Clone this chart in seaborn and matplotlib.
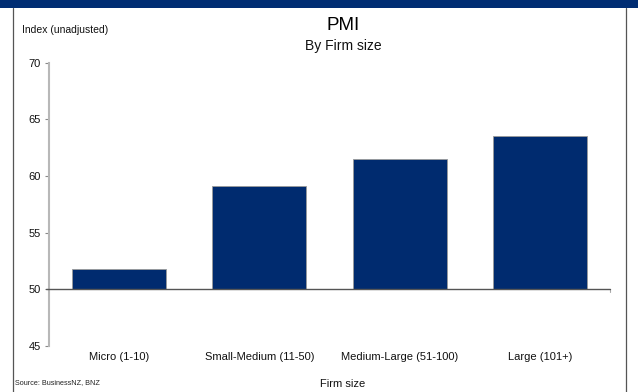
import matplotlib
matplotlib.use("Agg")
import matplotlib.pyplot as plt
import seaborn as sns
import pandas as pd
from matplotlib.lines import Line2D
from matplotlib.patches import Rectangle

categories = ["Micro (1-10)", "Small-Medium (11-50)", "Medium-Large (51-100)", "Large (101+)"]
values = [51.8, 59.1, 61.5, 63.5]
yticks = [45, 50, 55, 60, 65, 70]
base = 50

sns.set_theme(style="white")
plt.rcParams["font.family"] = ["Liberation Sans", "DejaVu Sans"]

W, H = 638, 392
fig = plt.figure(figsize=(W / 100, H / 100), dpi=100)
fig.patch.set_facecolor("white")

def fx(px):
    return px / W

def fy(py):
    return 1 - py / H

ax = fig.add_axes([fx(49), fy(346), fx(610) - fx(49), fy(62.7) - fy(346)])

df = pd.DataFrame({"cat": categories, "val": values})
df["height"] = df["val"] - base

sns.barplot(data=df, x="cat", y="height", bottom=base, color="#002B6F",
            saturation=1, width=0.67, edgecolor="#9a9a9a", linewidth=0.6, ax=ax)

ax.set_ylim(45, 70)
ax.set_xlim(-0.5, 3.5)
ax.set_yticks(yticks)
ax.set_yticklabels([str(t) for t in yticks], fontsize=8, color="#111111")
ax.set_xlabel("")
ax.set_ylabel("")
ax.tick_params(axis="x", length=0, pad=4, labelsize=8, labelcolor="#111111")
ax.tick_params(axis="y", left=True, length=3, width=0.8, color="#888888", pad=3)

for s in ["top", "right", "bottom"]:
    ax.spines[s].set_visible(False)
ax.spines["left"].set_color("#b8b8b8")
ax.spines["left"].set_linewidth(1.5)

# horizontal axis crossing at 50
ax.axhline(base, xmin=-0.006, xmax=1.0, color="#555555", linewidth=1.0, clip_on=False, zorder=3)
ax.plot([3.5, 3.5], [base, base - 0.25], color="#aaaaaa", linewidth=0.8, clip_on=False)

# header band and frame
fig.add_artist(Rectangle((0, fy(8)), 1, 1 - fy(8), transform=fig.transFigure,
                         facecolor="#002D73", edgecolor="none"))
fig.add_artist(Line2D([fx(13), fx(13)], [0, fy(8)], transform=fig.transFigure,
                      color="#555555", linewidth=0.9))
fig.add_artist(Line2D([fx(626), fx(626)], [0, fy(8)], transform=fig.transFigure,
                      color="#555555", linewidth=0.9))

fig.text(fx(343), fy(26), "PMI", ha="center", va="center", fontsize=13.5, color="#000000")
fig.text(fx(343), fy(46), "By Firm size", ha="center", va="center", fontsize=10, color="#111111")
fig.text(fx(22), fy(30), "Index (unadjusted)", ha="left", va="center", fontsize=7.5, color="#111111")
fig.text(fx(15), fy(383), "Source: BusinessNZ, BNZ", ha="left", va="center", fontsize=5.2, color="#222222")
fig.text(fx(343), fy(384), "Firm size", ha="center", va="center", fontsize=8, color="#111111")

fig.savefig("out.png", dpi=100, facecolor="white")
